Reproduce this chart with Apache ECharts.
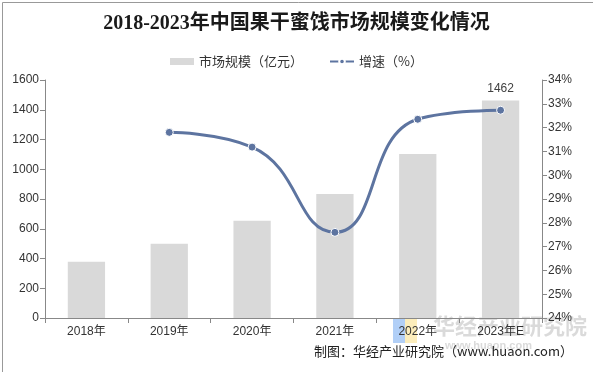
<!DOCTYPE html>
<html><head><meta charset="utf-8">
<script src="https://cdn.jsdelivr.net/npm/echarts@6/dist/echarts.min.js"></script>
<style>html,body{margin:0;padding:0;background:#fff}#c{width:593px;height:372px}</style>
</head><body><div id="c"></div>
<script>
const categories = ['2018年','2019年','2020年','2021年','2022年','2023年E'];
const marketSize = [378, 500, 654, 834, 1102, 1462];
const growthRate = [null, 31.80, 31.18, 27.60, 32.35, 32.73];
const leftTicks = [0, 1600, 200];
const rightTicks = [24, 34, 1];

const chart = echarts.init(document.getElementById('c'));
chart.setOption({
  backgroundColor: '#fff',
  animation: false,
  title: {
    text: '2018-2023年中国果干蜜饯市场规模变化情况',
    left: 'center', top: 9,
    textStyle: { fontFamily: '"Liberation Serif","Noto Sans CJK SC"', fontWeight: 'bold', fontSize: 20, color: '#1a1a1a' }
  },
  legend: {
    top: 50, left: 'center', itemGap: 26,
    textStyle: { fontFamily: '"Noto Sans CJK SC"', fontSize: 13, color: '#333' },
    data: [
      { name: '市场规模（亿元）', icon: 'rect', itemStyle: { color: '#d9d9d9' } },
      { name: '增速（%）' }
    ],
    itemWidth: 24, itemHeight: 7
  },
  grid: { left: 45, right: 51, top: 80, bottom: 54 },
  xAxis: {
    type: 'category', data: categories,
    axisLine: { lineStyle: { color: '#888' } },
    axisTick: { show: true, alignWithLabel: false, lineStyle: { color: '#888' } },
    axisLabel: { color: '#333', fontSize: 12, fontFamily: '"Liberation Sans","Noto Sans CJK SC"', margin: 8 }
  },
  yAxis: [
    {
      type: 'value', min: leftTicks[0], max: leftTicks[1], interval: leftTicks[2],
      axisLine: { show: true, lineStyle: { color: '#888' } },
      axisTick: { show: true, lineStyle: { color: '#888' } },
      splitLine: { show: false },
      axisLabel: { color: '#333', fontSize: 12, fontFamily: '"Liberation Sans"', margin: 6, formatter: v => String(v) }
    },
    {
      type: 'value', min: rightTicks[0], max: rightTicks[1], interval: rightTicks[2],
      position: 'right',
      axisLine: { show: true, lineStyle: { color: '#888' } },
      axisTick: { show: true, lineStyle: { color: '#888' } },
      splitLine: { show: false },
      axisLabel: { color: '#333', fontSize: 12, fontFamily: '"Liberation Sans"', formatter: '{value}%', margin: 6 }
    }
  ],
  series: [
    {
      name: '市场规模（亿元）', type: 'bar', data: marketSize.map((v, i) => i === marketSize.length - 1 ? { value: v, label: { show: true } } : v),
      barWidth: '45%',
      itemStyle: { color: '#d9d9d9' },
      label: { show: false, position: 'top', color: '#404040', fontSize: 12, fontFamily: '"Liberation Sans"', distance: 6 }
    },
    {
      name: '增速（%）', type: 'line', yAxisIndex: 1, data: growthRate,
      smooth: 0.5, connectNulls: false,
      symbol: 'circle', symbolSize: 8,
      lineStyle: { color: '#5d74a0', width: 3 },
      itemStyle: { color: '#5d74a0', borderColor: '#fff', borderWidth: 1 }
    }
  ],
  graphic: [
    { type: 'rect', left: 0, top: 0, shape: { width: 592, height: 371 }, style: { fill: 'none', stroke: '#999', lineWidth: 1 } },
    { type: 'rect', left: 393, top: 318, shape: { width: 12, height: 25 }, style: { fill: 'rgba(100,160,240,0.5)' } },
    { type: 'rect', left: 405, top: 318, shape: { width: 12, height: 25 }, style: { fill: 'rgba(250,220,120,0.5)' } },
    { type: 'text', left: 433, top: 315, style: { text: '华经产业研究院', fontSize: 22, fontWeight: 'bold', fontFamily: '"Noto Sans CJK SC"', fill: 'rgba(150,150,150,0.35)' } },
    { type: 'text', left: 445, top: 340, style: { text: 'www.huaon.com', fontSize: 11, fontWeight: 'bold', fontFamily: '"Liberation Sans"', fill: 'rgba(150,150,150,0.35)' } },
    { type: 'text', right: 20, top: 345, style: { text: '制图：华经产业研究院（www.huaon.com）', fontSize: 13, fontFamily: '"Noto Sans CJK SC"', fill: '#222' } }
  ]
});
</script></body></html>
